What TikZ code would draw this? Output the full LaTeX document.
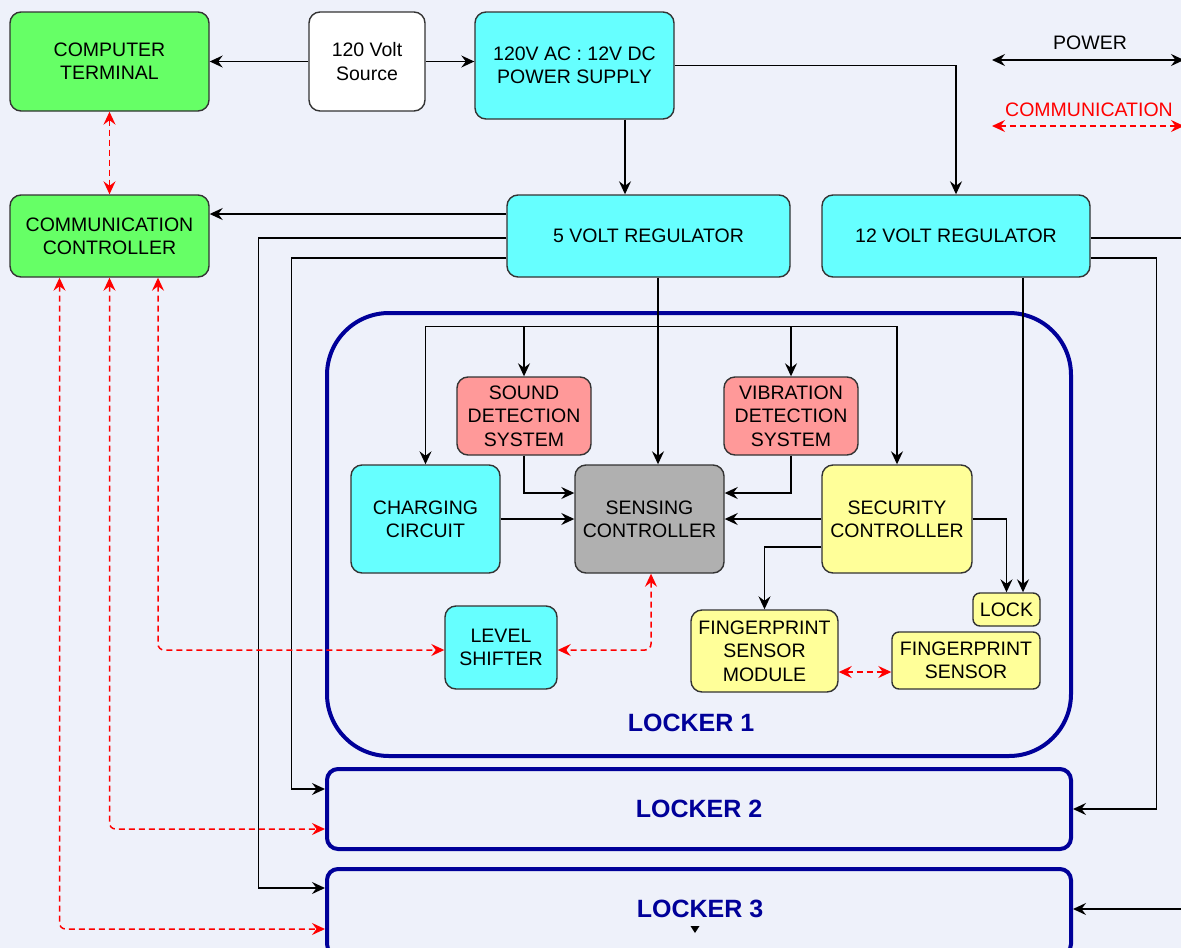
\documentclass[tikz,border=0pt]{standalone}
\usepackage{fontspec}
\setmainfont{Liberation Sans}
\usetikzlibrary{arrows.meta,calc}
\definecolor{bgc}{HTML}{EEF1FA}
\definecolor{grc}{HTML}{66FF66}
\definecolor{cyc}{HTML}{66FFFF}
\definecolor{pkc}{HTML}{FF9999}
\definecolor{gyc}{HTML}{B0B0B0}
\definecolor{ylc}{HTML}{FFFF99}
\definecolor{bdc}{HTML}{333333}
\definecolor{lbc}{HTML}{000099}
\newcommand{\boxfont}{\fontsize{19.5}{23.3}\selectfont}
\newcommand{\lockfont}{\fontsize{25}{30}\selectfont\bfseries}
\tikzset{
  box/.style={draw=bdc, line width=1.4pt, rounded corners=11pt, align=center, inner sep=0pt, font=\boxfont, text=black},
  sbox/.style={box, rounded corners=7pt},
  locker/.style={draw=lbc, line width=4pt, inner sep=0pt, font=\lockfont, text=lbc},
  pw/.style={draw=black, line width=1.5pt, -{Stealth[length=13pt,width=12pt,inset=4.5pt]}},
  pwboth/.style={draw=black, line width=1.5pt, {Stealth[length=13pt,width=12pt,inset=4.5pt]}-{Stealth[length=13pt,width=12pt,inset=4.5pt]}},
  comm/.style={draw=red, line width=1.5pt, dash pattern=on 6pt off 4pt, rounded corners=6pt, {Stealth[length=13pt,width=12pt,inset=4.5pt]}-{Stealth[length=13pt,width=12pt,inset=4.5pt]}},
  legend/.style={font=\boxfont, inner sep=0pt}
}
\begin{document}
\begin{tikzpicture}[x=1pt,y=-1pt]
\useasboundingbox (0,0) rectangle (1181,948);
\clip (0,0) rectangle (1181,948);
\fill[bgc] (0,0) rectangle (1181,948);

% top row
\node[box, fill=grc, minimum width=199pt, minimum height=99pt] (ct) at (109.5,61.5) {COMPUTER\\TERMINAL};
\node[box, fill=white, minimum width=116pt, minimum height=99pt] (src) at (367,61.5) {120 Volt\\Source};
\node[box, fill=cyc, minimum width=199pt, minimum height=107pt] (ps) at (574.5,65.5) {120V AC : 12V DC\\POWER SUPPLY};

% second row
\node[box, fill=grc, minimum width=199pt, minimum height=82pt] (cc) at (109.5,236) {COMMUNICATION\\CONTROLLER};
\node[box, fill=cyc, minimum width=283pt, minimum height=82pt] (v5) at (648.5,236) {5 VOLT REGULATOR};
\node[box, fill=cyc, minimum width=268pt, minimum height=82pt] (v12) at (956,236) {12 VOLT REGULATOR};

% lockers
\node[locker, rounded corners=62pt, minimum width=744pt, minimum height=443pt] (L1) at (699,534.5) {};
\node[locker, rounded corners=11pt, minimum width=744pt, minimum height=80pt] (L2) at (699,809) {LOCKER 2};
\node[locker, rounded corners=11pt, minimum width=744pt, minimum height=86pt] (L3) at (699,912) {};
\node[font=\lockfont, text=lbc, inner sep=0pt] (l3lab) at (700,909) {LOCKER 3};
\node[font=\lockfont, text=lbc, inner sep=0pt] (l1lab) at (691,723) {LOCKER 1};

% locker 1 contents
\node[box, fill=pkc, minimum width=134pt, minimum height=78pt] (sound) at (524,416) {SOUND\\DETECTION\\SYSTEM};
\node[box, fill=pkc, minimum width=134pt, minimum height=78pt] (vib) at (791,416) {VIBRATION\\DETECTION\\SYSTEM};
\node[box, fill=cyc, minimum width=149pt, minimum height=108pt] (chg) at (425.5,519) {CHARGING\\CIRCUIT};
\node[box, fill=gyc, minimum width=149pt, minimum height=108pt] (sens) at (649.5,519) {SENSING\\CONTROLLER};
\node[box, fill=ylc, minimum width=150pt, minimum height=108pt] (sec) at (897,519) {SECURITY\\CONTROLLER};
\node[sbox, fill=ylc, minimum width=67pt, minimum height=33pt] (lock) at (1006.5,609.5) {LOCK};
\node[box, fill=ylc, minimum width=147pt, minimum height=82pt] (fsm) at (764.5,651) {FINGERPRINT\\SENSOR\\MODULE};
\node[sbox, fill=ylc, minimum width=148pt, minimum height=57pt] (fs) at (966,660.5) {FINGERPRINT\\SENSOR};
\node[box, fill=cyc, minimum width=112pt, minimum height=83pt] (ls) at (501,647.5) {LEVEL\\SHIFTER};

% legend
\node[legend] (powlab) at (1090,43) {POWER};
\node[legend, text=red] (comlab) at (1089,110) {COMMUNICATION};
\coordinate (pl) at (992,60);
\coordinate (pr) at (1184,60);
\coordinate (cl) at (992,126);
\coordinate (cr) at (1184,126);
\draw[pwboth] (pl) -- (pr);
\draw[comm] (cl) -- (cr);

% power connectors
\draw[pw] (src.west) -- (ct.east);
\draw[pw] (src.east) -- (src.east -| ps.west);
\draw[pw] ([xshift=50.5pt]ps.south) -- ([xshift=50.5pt]ps.south |- v5.north);
\draw[pw] (ps.east) -| (v12.north);
\draw[pw] ([yshift=22pt]v5.west) -- ([yshift=22pt]v5.west -| cc.east);
\draw[pw] ([yshift=-2pt]v5.west) -- ++(-248,0) |- ([yshift=24pt]L3.west);
\draw[pw] ([yshift=-22pt]v5.west) -- ++(-215,0) |- ([yshift=20pt]L2.west);
\draw[pw] ([xshift=9.5pt]v5.south) -- ([xshift=9.5pt]v5.south |- sens.north);
\draw[pw] ([yshift=-2pt]v12.east) -- ++(105,0) |- ([yshift=3pt]L3.east);
\draw[pw] ([yshift=-22pt]v12.east) -- ++(66,0) |- (L2.east);
\draw[pw] ([xshift=67pt]v12.south) -- ([xshift=67pt]v12.south |- lock.north);

% internal bus
\draw[pwboth] (chg.north) -- ++(0,-138) -| (sec.north);
\draw[pw] (sound.north) ++(0,-50) -- (sound.north);
\draw[pw] (vib.north) ++(0,-50) -- (vib.north);
\draw[pw] (sound.south) |- ([yshift=26pt]sens.west);
\draw[pw] (vib.south) |- ([yshift=26pt]sens.east);
\draw[pw] (chg.east) -- (sens.west);
\draw[pw] (sec.west) -- (sens.east);
\draw[pw] ([yshift=-28pt]sec.west) -| (fsm.north);
\draw[pw] (sec.east) -| (lock.north);

% communication connectors
\draw[comm] (ct.south) -- (cc.north);
\draw[comm] ([yshift=-21pt]fsm.east) -- ([yshift=-21pt]fsm.east -| fs.west);
\draw[comm] ([xshift=1.5pt]sens.south) |- ([yshift=-2.5pt]ls.east);
\draw[comm] ([xshift=48.5pt]cc.south) |- ([yshift=-2.5pt]ls.west);
\draw[comm] (cc.south) |- ([yshift=-20pt]L2.west);
\draw[comm] ([xshift=-50pt]cc.south) |- ([yshift=-17pt]L3.west);

% small marker
\fill[black] (690.5,926) -- (699.5,926) -- (695,933) -- cycle;
\end{tikzpicture}
\end{document}
